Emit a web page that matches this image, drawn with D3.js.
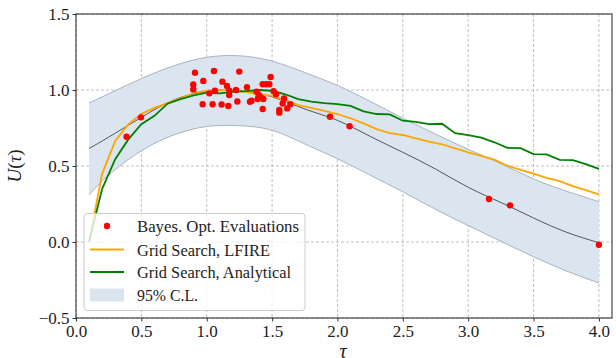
<!DOCTYPE html>
<html><head><meta charset="utf-8">
<script src="https://cdn.jsdelivr.net/npm/d3@7"></script>
<style>body{margin:0;background:#fff}svg{display:block}
svg text{font-family:"Liberation Serif","Times New Roman","DejaVu Serif",serif !important;}</style>
</head><body>
<svg id="c" width="616" height="358"></svg>
<script>
// ---- data ----
const gridT = [0.1,0.2,0.3,0.4,0.5,0.6,0.7,0.8,0.9,1.0,1.1,1.2,1.3,1.4,1.5,1.6,1.7,1.8,1.9,2.0,
               2.1,2.2,2.3,2.4,2.5,2.6,2.7,2.8,2.9,3.0,3.1,3.2,3.3,3.4,3.5,3.6,3.7,3.8,3.9,4.0];
const lfire = [0.0,0.45,0.665,0.774,0.843,0.882,0.914,0.945,0.98,0.995,1.0,0.995,0.988,0.971,0.962,0.934,0.9,0.883,0.862,0.842,
               0.814,0.78,0.743,0.716,0.704,0.682,0.66,0.643,0.616,0.589,0.566,0.542,0.502,0.474,0.45,0.422,0.4,0.368,0.342,0.314];
const analytical = [0.0,0.35,0.545,0.675,0.775,0.83,0.91,0.94,0.965,0.982,0.978,0.988,0.993,1.0,0.995,0.972,0.94,0.924,0.914,0.907,
               0.896,0.86,0.842,0.84,0.798,0.79,0.776,0.778,0.716,0.703,0.686,0.656,0.62,0.617,0.578,0.576,0.54,0.539,0.512,0.481];
const bandT = [0.1,0.25,0.5,0.75,1.0,1.25,1.5,1.75,2.0,2.25,2.5,2.75,3.0,3.25,3.5,3.75,4.0];
const bandMean  = [0.615,0.69,0.82,0.935,0.99,0.995,0.955,0.875,0.8,0.695,0.59,0.48,0.36,0.26,0.158,0.065,-0.005];
const bandUpper = [0.915,0.975,1.075,1.16,1.215,1.225,1.19,1.115,1.03,0.925,0.815,0.71,0.61,0.515,0.415,0.335,0.265];
const bandLower = [0.31,0.44,0.60,0.705,0.76,0.765,0.735,0.645,0.548,0.44,0.33,0.215,0.108,0.005,-0.097,-0.19,-0.27];
const boT = [0.387,0.497,0.897,0.910,0.897,0.974,1.055,0.969,1.045,1.020,1.063,1.120,1.155,1.114,1.165,1.172,1.173,1.224,1.249,1.234,
             1.308,1.331,1.343,1.382,1.397,1.413,1.390,1.433,1.428,1.428,1.455,1.479,1.489,1.512,1.530,1.591,1.581,1.616,1.640,1.555,
             1.555,1.943,2.093,3.159,3.320,4.0];
const boU = [0.693,0.82,1.037,1.114,1.004,1.060,1.125,0.906,0.906,0.978,0.995,1.055,1.026,0.905,0.895,0.967,0.996,1.0,1.121,0.924,
             1.018,0.923,0.930,0.989,0.967,0.952,0.941,0.941,0.875,1.038,1.038,1.038,1.086,0.992,0.972,0.944,0.911,0.879,0.907,0.868,
             0.851,0.824,0.762,0.283,0.241,-0.018];
const xTicks = [0,0.5,1.0,1.5,2.0,2.5,3.0,3.5,4.0];
const yTicks = [-0.5,0,0.5,1.0,1.5];
const legendLabels = ["Bayes. Opt. Evaluations","Grid Search, LFIRE","Grid Search, Analytical","95% C.L."];

// ---- layout ----
const L = 76, R = 612, T = 14, B = 318;
const svg = d3.select("#c");
const x = d3.scaleLinear().domain([0,4.1]).range([L,R]);
const y = d3.scaleLinear().domain([-0.5,1.5]).range([B,T]);

// grid
const g = svg.append("g");
g.selectAll("line.gx").data(xTicks).join("line")
  .attr("x1",d=>x(d)).attr("x2",d=>x(d)).attr("y1",T).attr("y2",B)
  .attr("stroke","#b0b0b0").attr("stroke-width",0.8).attr("stroke-dasharray","3,2");
g.selectAll("line.gy").data(yTicks).join("line")
  .attr("y1",d=>y(d)).attr("y2",d=>y(d)).attr("x1",L).attr("x2",R)
  .attr("stroke","#b0b0b0").attr("stroke-width",0.8).attr("stroke-dasharray","3,2");

// band
const bandData = bandT.map((t,i)=>({t,m:bandMean[i],u:bandUpper[i],l:bandLower[i]}));
svg.append("path").datum(bandData)
  .attr("d", d3.area().x(d=>x(d.t)).y0(d=>y(d.l)).y1(d=>y(d.u)).curve(d3.curveNatural))
  .attr("fill","#dbe5ef");
["u","l"].forEach(k=>{
  svg.append("path").datum(bandData)
    .attr("d", d3.line().x(d=>x(d.t)).y(d=>y(d[k])).curve(d3.curveNatural))
    .attr("fill","none").attr("stroke","#a9b3be").attr("stroke-width",1);
});
svg.append("path").datum(bandData)
  .attr("d", d3.line().x(d=>x(d.t)).y(d=>y(d.m)).curve(d3.curveNatural))
  .attr("fill","none").attr("stroke","#555").attr("stroke-width",1);

// lines
const ln = d3.line().x(d=>x(d[0])).y(d=>y(d[1]));
svg.append("path").datum(gridT.map((t,i)=>[t,lfire[i]])).attr("d",ln)
  .attr("fill","none").attr("stroke","orange").attr("stroke-width",1.8);
svg.append("path").datum(gridT.map((t,i)=>[t,analytical[i]])).attr("d",ln)
  .attr("fill","none").attr("stroke","green").attr("stroke-width",1.8);

// points
svg.selectAll("circle.bo").data(boT.map((t,i)=>[t,boU[i]])).join("circle")
  .attr("cx",d=>x(d[0])).attr("cy",d=>y(d[1])).attr("r",3.2).attr("fill","red");

// axes
const xa = svg.append("g").attr("transform",`translate(0,${B})`)
  .call(d3.axisBottom(x).tickValues(xTicks).tickFormat(d3.format(".1f")).tickSizeOuter(0).tickSize(3.5).tickPadding(3));
const ya = svg.append("g").attr("transform",`translate(${L},0)`)
  .call(d3.axisLeft(y).tickValues(yTicks).tickFormat(d=>d3.format(".1f")(d).replace("-","\u2212")).tickSizeOuter(0).tickSize(3.5).tickPadding(3));
[xa,ya].forEach(a=>{
  a.select(".domain").remove();
  a.attr("font-family",null).attr("font-size",null);
  a.selectAll("line").attr("stroke","#000").attr("stroke-width",0.8);
  a.selectAll("text").style("font-size","17px").attr("fill","#222");
});
// frame
svg.append("rect").attr("x",L).attr("y",T).attr("width",R-L).attr("height",B-T)
  .attr("fill","none").attr("stroke","#222").attr("stroke-width",1);

// axis labels
svg.append("text").attr("x",343).attr("y",358).attr("text-anchor","middle")
  .style("font-style","italic").style("font-size","20px").attr("fill","#222").text("τ");
svg.append("text").attr("transform","translate(21,166) rotate(-90)").attr("text-anchor","middle")
  .style("font-size","19px").attr("fill","#222")
  .html('<tspan font-style="italic">U</tspan>(<tspan font-style="italic">τ</tspan>)');

// legend
const lg = svg.append("g");
lg.append("rect").attr("x",84).attr("y",213.5).attr("width",221).attr("height",97).attr("rx",3)
  .attr("fill","#fff").attr("fill-opacity",0.8).attr("stroke","#ccc").attr("stroke-width",1);
const rows = [232,255.5,278,301];
const rowMid = rows.map(r=>r-6);
lg.append("circle").attr("cx",107).attr("cy",rowMid[0]).attr("r",3.2).attr("fill","red");
lg.append("line").attr("x1",90).attr("x2",124).attr("y1",rowMid[1]).attr("y2",rowMid[1]).attr("stroke","orange").attr("stroke-width",1.8);
lg.append("line").attr("x1",90).attr("x2",124).attr("y1",rowMid[2]).attr("y2",rowMid[2]).attr("stroke","green").attr("stroke-width",1.8);
lg.append("rect").attr("x",90).attr("y",rowMid[3]-6.5).attr("width",34).attr("height",13).attr("fill","#dbe5ef");
const widths = [162,133,154,61];
lg.selectAll("text").data(legendLabels).join("text")
  .attr("x",137).attr("y",(d,i)=>rows[i]).style("font-size","16px").attr("fill","#222")
  .text(d=>d).attr("textLength",(d,i)=>widths[i]).attr("lengthAdjust","spacingAndGlyphs");
</script>
</body></html>
